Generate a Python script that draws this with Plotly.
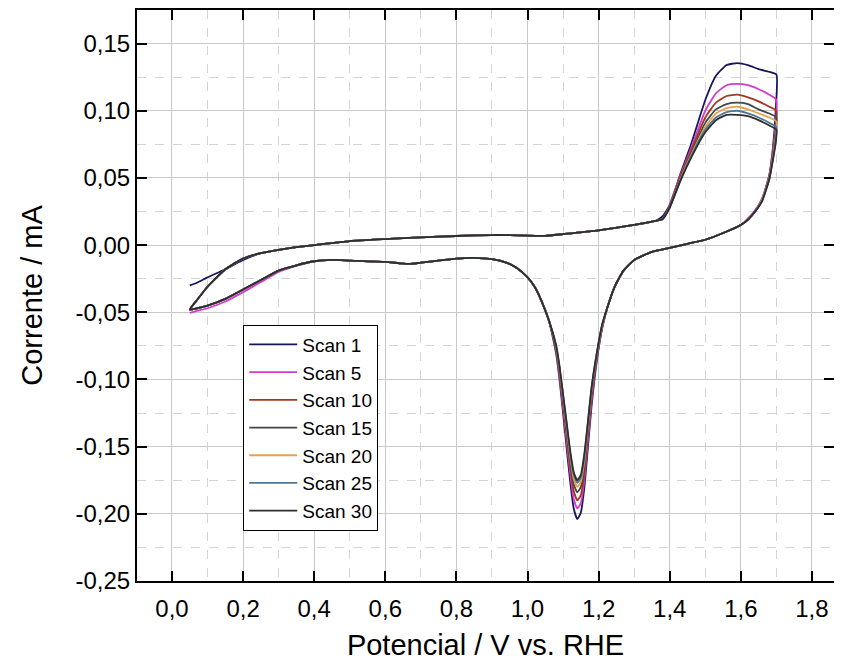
import plotly.graph_objects as go

# ---------------- data ----------------
scan_names = ["Scan 1", "Scan 5", "Scan 10", "Scan 15", "Scan 20", "Scan 25", "Scan 30"]
scan_colors = ["#16165c", "#d23cd2", "#a3381f", "#464646", "#e3a352", "#4e7894", "#2e2e2e"]

x_tickvals = [0.0, 0.2, 0.4, 0.6, 0.8, 1.0, 1.2, 1.4, 1.6, 1.8]
x_ticktext = ["0,0", "0,2", "0,4", "0,6", "0,8", "1,0", "1,2", "1,4", "1,6", "1,8"]
y_tickvals = [-0.25, -0.20, -0.15, -0.10, -0.05, 0.00, 0.05, 0.10, 0.15]
y_ticktext = ["-0,25", "-0,20", "-0,15", "-0,10", "-0,05", "0,00", "0,05", "0,10", "0,15"]

# anodic (forward) sweep potentials, V vs RHE
E_fwd = [0.05, 0.07, 0.10, 0.15, 0.20, 0.25, 0.30, 0.35, 0.40, 0.50, 0.60, 0.70, 0.80,
         0.90, 0.95, 1.00, 1.05, 1.10, 1.20, 1.30, 1.36, 1.38,
         1.40, 1.43, 1.46, 1.50, 1.53, 1.56, 1.59, 1.62, 1.65, 1.68, 1.70]

fwd_start_scan1 = [-0.030, -0.028, -0.024, -0.018, -0.011, -0.006]
fwd_start_other = [-0.048, -0.041, -0.031, -0.018, -0.010, -0.006]
fwd_mid_common = [-0.0035, -0.0015, 0.000, 0.003, 0.0045, 0.0058, 0.0068,
                  0.0075, 0.0074, 0.0070, 0.0069, 0.0082, 0.0110, 0.0150, 0.0180]
fwd_knee_scan1 = [0.0215]
fwd_knee_other = [0.0195]

fwd_ox_scan1 = [0.030, 0.053, 0.075, 0.108, 0.126, 0.134, 0.1355, 0.134, 0.131, 0.129, 0.127]
fwd_ox_scan5 = [0.030, 0.052, 0.072, 0.100, 0.113, 0.119, 0.120, 0.119, 0.116, 0.112, 0.108]
fwd_ox_scan10 = [0.029, 0.051, 0.070, 0.095, 0.106, 0.111, 0.112, 0.110, 0.107, 0.103, 0.100]
fwd_ox_scan15 = [0.029, 0.050, 0.068, 0.091, 0.101, 0.105, 0.106, 0.105, 0.101, 0.098, 0.095]
fwd_ox_scan20 = [0.028, 0.049, 0.067, 0.088, 0.098, 0.102, 0.103, 0.101, 0.098, 0.095, 0.092]
fwd_ox_scan25 = [0.028, 0.048, 0.066, 0.086, 0.095, 0.099, 0.100, 0.098, 0.095, 0.091, 0.088]
fwd_ox_scan30 = [0.028, 0.048, 0.065, 0.084, 0.093, 0.097, 0.097, 0.096, 0.093, 0.089, 0.086]

# cathodic (reverse) sweep potentials
E_rev = [1.700, 1.698, 1.690, 1.680, 1.660, 1.640, 1.620, 1.600, 1.550, 1.500, 1.450,
         1.400, 1.350, 1.300, 1.270, 1.245, 1.225,
         1.210, 1.195, 1.180, 1.170, 1.160, 1.150, 1.140, 1.130, 1.120, 1.110, 1.100, 1.090, 1.080,
         1.060, 1.040, 1.020, 1.000, 0.970, 0.940, 0.900, 0.850, 0.800, 0.750, 0.700, 0.670,
         0.640, 0.600, 0.500, 0.450, 0.400, 0.350, 0.300, 0.250, 0.200, 0.150, 0.100, 0.070, 0.050]

rev_top_scan1 = [0.127, 0.100, 0.072, 0.052, 0.034, 0.025, 0.019, 0.015]
rev_top_scan5 = [0.108, 0.090, 0.070, 0.052, 0.035, 0.026, 0.020, 0.015]
rev_top_scan10 = [0.100, 0.085, 0.068, 0.051, 0.034, 0.025, 0.019, 0.015]
rev_top_scan15 = [0.095, 0.082, 0.066, 0.050, 0.034, 0.025, 0.019, 0.015]
rev_top_scan20 = [0.092, 0.080, 0.065, 0.050, 0.034, 0.025, 0.019, 0.015]
rev_top_scan25 = [0.088, 0.078, 0.064, 0.049, 0.033, 0.025, 0.019, 0.015]
rev_top_scan30 = [0.086, 0.076, 0.063, 0.049, 0.033, 0.025, 0.019, 0.015]

rev_mid_common = [0.009, 0.004, 0.001, -0.002, -0.005, -0.011, -0.019, -0.031, -0.046]

rev_peak_scan1 = [-0.062, -0.086, -0.120, -0.150, -0.180, -0.199, -0.204, -0.196, -0.176, -0.151, -0.125, -0.100, -0.080]
rev_peak_scan5 = [-0.061, -0.084, -0.116, -0.145, -0.174, -0.192, -0.196, -0.189, -0.170, -0.146, -0.121, -0.097, -0.078]
rev_peak_scan10 = [-0.061, -0.083, -0.113, -0.141, -0.169, -0.186, -0.190, -0.183, -0.165, -0.142, -0.118, -0.095, -0.077]
rev_peak_scan15 = [-0.060, -0.082, -0.110, -0.137, -0.164, -0.180, -0.184, -0.178, -0.160, -0.138, -0.115, -0.093, -0.076]
rev_peak_scan20 = [-0.060, -0.081, -0.108, -0.134, -0.160, -0.176, -0.180, -0.174, -0.157, -0.135, -0.113, -0.092, -0.075]
rev_peak_scan25 = [-0.059, -0.080, -0.107, -0.132, -0.157, -0.173, -0.177, -0.171, -0.155, -0.133, -0.112, -0.091, -0.075]
rev_peak_scan30 = [-0.059, -0.080, -0.106, -0.131, -0.155, -0.171, -0.175, -0.169, -0.153, -0.132, -0.111, -0.090, -0.074]

rev_tail_common = [-0.056, -0.042, -0.031, -0.024, -0.017, -0.013, -0.0105, -0.0095, -0.0100,
                   -0.0115, -0.0130, -0.0140, -0.0135, -0.0125, -0.0115, -0.0110, -0.0120,
                   -0.0150, -0.0190, -0.0260, -0.0330, -0.0400, -0.0450, -0.0470, -0.0480]
rev_tail_scan5 = [-0.056, -0.042, -0.031, -0.024, -0.017, -0.013, -0.0105, -0.0095, -0.0100,
                  -0.0115, -0.0130, -0.0140, -0.0135, -0.0125, -0.0115, -0.0110, -0.0120,
                  -0.0155, -0.0200, -0.0275, -0.0350, -0.0420, -0.0470, -0.0490, -0.0505]

I_fwd = [
    fwd_start_scan1 + fwd_mid_common + fwd_knee_scan1 + fwd_ox_scan1,
    fwd_start_other + fwd_mid_common + fwd_knee_other + fwd_ox_scan5,
    fwd_start_other + fwd_mid_common + fwd_knee_other + fwd_ox_scan10,
    fwd_start_other + fwd_mid_common + fwd_knee_other + fwd_ox_scan15,
    fwd_start_other + fwd_mid_common + fwd_knee_other + fwd_ox_scan20,
    fwd_start_other + fwd_mid_common + fwd_knee_other + fwd_ox_scan25,
    fwd_start_other + fwd_mid_common + fwd_knee_other + fwd_ox_scan30,
]
I_rev = [
    rev_top_scan1 + rev_mid_common + rev_peak_scan1 + rev_tail_common,
    rev_top_scan5 + rev_mid_common + rev_peak_scan5 + rev_tail_scan5,
    rev_top_scan10 + rev_mid_common + rev_peak_scan10 + rev_tail_common,
    rev_top_scan15 + rev_mid_common + rev_peak_scan15 + rev_tail_common,
    rev_top_scan20 + rev_mid_common + rev_peak_scan20 + rev_tail_common,
    rev_top_scan25 + rev_mid_common + rev_peak_scan25 + rev_tail_common,
    rev_top_scan30 + rev_mid_common + rev_peak_scan30 + rev_tail_common,
]

# ---------------- figure ----------------
FONT = "Liberation Sans, Arial, sans-serif"
fig = go.Figure()
for name, color, fwd, rev in zip(scan_names, scan_colors, I_fwd, I_rev):
    fig.add_trace(go.Scatter(
        x=E_fwd + E_rev[1:], y=fwd + rev[1:], mode="lines", name=name,
        line=dict(color=color, width=1.8, shape="spline", smoothing=0.5),
    ))

axis_common = dict(
    showline=True, linecolor="black", linewidth=2, mirror="ticks",
    ticks="inside", ticklen=10, tickwidth=2, tickcolor="black",
    showgrid=True, gridcolor="#c8c8c8", gridwidth=1,
    zeroline=False, automargin=False,
    tickfont=dict(family=FONT, size=24, color="black"),
)

fig.update_xaxes(
    **axis_common, range=[-0.0984, 1.862],
    tickmode="array", tickvals=x_tickvals, ticktext=x_ticktext,
    ticklabelstandoff=5,
    minor=dict(tick0=0, dtick=0.1, showgrid=True, gridcolor="#d4d4d4", griddash="dash", ticks=""),
    title=dict(text="Potencial / V vs. RHE", font=dict(family=FONT, size=29, color="black"), standoff=14),
)
fig.update_yaxes(
    **axis_common, range=[-0.25, 0.175],
    tickmode="array", tickvals=y_tickvals, ticktext=y_ticktext,
    minor=dict(tick0=0, dtick=0.025, showgrid=True, gridcolor="#d4d4d4", griddash="dash", ticks=""),
    title=dict(text="Corrente / mA", font=dict(family=FONT, size=29, color="black"), standoff=24),
)

# the page body adds an 8px margin, so the figure is sized to fit inside it
fig.update_layout(
    width=826, height=653,
    margin=dict(l=129, r=0, t=2, b=79.5),
    paper_bgcolor="white", plot_bgcolor="white",
    font=dict(family=FONT, color="black"),
    legend=dict(
        x=0.1524, y=0.449, xanchor="left", yanchor="top",
        bgcolor="white", bordercolor="black", borderwidth=1,
        font=dict(family=FONT, size=19, color="black"),
        tracegroupgap=0, itemwidth=48,
    ),
    showlegend=True,
)

fig.write_html("out.html")
